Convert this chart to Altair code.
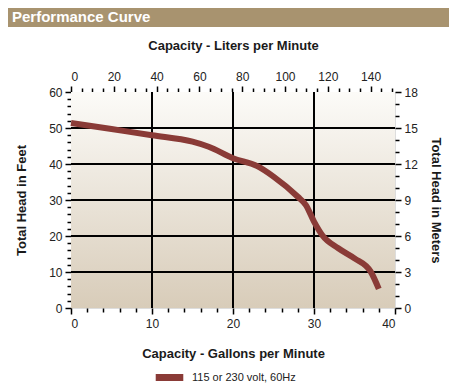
import altair as alt
import pandas as pd

# data
gallons = [0, 5, 10, 15, 17, 20, 23, 25, 28, 29, 30, 31, 33, 35, 37, 38]
feet = [51.4, 49.7, 48.0, 46.2, 44.8, 41.6, 39.4, 36.5, 30.9, 28.6, 24.0, 20.3, 16.6, 13.8, 10.1, 5.3]
series_name = "115 or 230 volt, 60Hz"

gal_ticks = list(range(0, 41, 2))
ft_ticks = list(range(0, 61, 2))
lit_ticks = list(range(0, 151, 5))
m_ticks = list(range(0, 19, 1))
gal_grid = [10, 20, 30]
ft_grid = [10, 20, 30, 40, 50]

df = pd.DataFrame({"gal": gallons, "ft": feet, "series": [series_name] * len(gallons)})

FONT = "Liberation Sans"
LINE_COLOR = "#8a3b37"

def axis(orient, values, mod, title, title_pad, label_pad):
    return alt.Axis(
        orient=orient,
        values=values,
        title=title,
        labelExpr=f"datum.value % {mod} === 0 ? datum.label : ''",
        tickSize={"condition": {"test": f"datum.value % {mod} === 0", "value": 6}, "value": 4},
        tickColor="black",
        tickWidth=1.5,
        domain=False,
        grid=False,
        labelFont=FONT,
        labelFontSize=12,
        labelColor="#222222",
        labelPadding=label_pad,
        titleFont=FONT,
        titleFontSize=13,
        titleFontWeight="bold",
        titleColor="#1a1a1a",
        titlePadding=title_pad,
    )

XS = alt.Scale(domain=[0, 40], nice=False, zero=False)
YS = alt.Scale(domain=[0, 60], nice=False)
XA = axis("bottom", gal_ticks, 10, "Capacity - Gallons per Minute", 18, 4)
YA = axis("left", ft_ticks, 10, "Total Head in Feet", 20, 3)

header = alt.Chart(alt.Data(values=[{}])).mark_rect(color="#a8936f").encode(
    x=alt.value(-63), x2=alt.value(386), y=alt.value(-84), y2=alt.value(-65)
)
header_text = alt.Chart(alt.Data(values=[{}])).mark_text(
    align="left", baseline="middle", color="white", font=FONT, fontSize=15, fontWeight="bold"
).encode(x=alt.value(-59), y=alt.value(-75), text=alt.value("Performance Curve"))

bg = alt.Chart(alt.Data(values=[{}])).mark_rect(
    color=alt.LinearGradient(gradient="linear", x1=0, x2=0, y1=0, y2=1,
                             stops=[alt.GradientStop(color="#fcfbf8", offset=0),
                                    alt.GradientStop(color="#d8ccb9", offset=1)])
).encode(
    x=alt.XDatum(0, type="quantitative", scale=XS, axis=XA),
    x2=alt.X2Datum(40),
    y=alt.YDatum(0, type="quantitative", scale=YS, axis=YA),
    y2=alt.Y2Datum(60),
)

vgrid = alt.Chart(pd.DataFrame({"g": gal_grid})).mark_rule(color="black", strokeWidth=2).encode(
    x=alt.X("g:Q", scale=XS, axis=XA)
)
hgrid = alt.Chart(pd.DataFrame({"f": ft_grid})).mark_rule(color="black", strokeWidth=2).encode(
    y=alt.Y("f:Q", scale=YS, axis=YA)
)

line = alt.Chart(df).mark_line(strokeWidth=6, interpolate="monotone", strokeCap="butt").encode(
    x=alt.X("gal:Q", scale=XS, axis=XA),
    y=alt.Y("ft:Q", scale=YS, axis=YA),
    color=alt.Color("series:N", scale=alt.Scale(range=[LINE_COLOR]),
                    legend=alt.Legend(orient="none", legendX=81, legendY=268, title=None,
                                      symbolType="stroke", symbolStrokeWidth=7, symbolSize=760,
                                      labelFont=FONT, labelFontSize=11, labelColor="#222222",
                                      labelOffset=5)),
)

lin_layer = alt.layer(header, header_text, bg, vgrid, hgrid, line)

dummy = alt.Chart(alt.Data(values=[{"l": 0, "m": 0}])).mark_point(opacity=0).encode(
    x=alt.X("l:Q", scale=alt.Scale(domain=[0, 151.4], nice=False),
            axis=axis("top", lit_ticks, 20, "Capacity - Liters per Minute", 18, 3)),
    y=alt.Y("m:Q", scale=alt.Scale(domain=[0, 18], nice=False),
            axis=axis("right", m_ticks, 3, "Total Head in Meters", 11, 3)),
)

chart = alt.layer(lin_layer, dummy).resolve_scale(x="independent", y="independent").properties(
    width=324, height=216,
    autosize=alt.AutoSizeParams(type="none"),
    padding={"left": 63, "top": 84, "right": 54, "bottom": 83},
).configure_view(
    stroke="black", strokeWidth=2,
).configure(background="white")

chart.save("out.html", embed_options={"renderer": "svg", "actions": False})
